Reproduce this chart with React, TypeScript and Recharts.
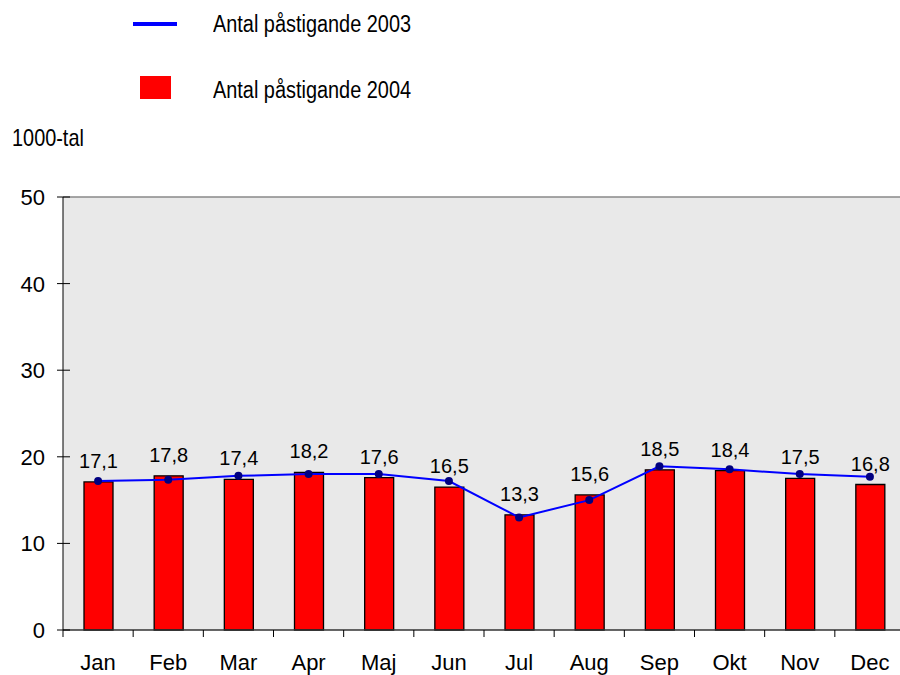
import React from 'react';
import { ComposedChart, Bar, Line, XAxis, YAxis, CartesianGrid, LabelList, ReferenceLine, Label } from 'recharts';

const months = ['Jan', 'Feb', 'Mar', 'Apr', 'Maj', 'Jun', 'Jul', 'Aug', 'Sep', 'Okt', 'Nov', 'Dec'];
const values2004 = [17.1, 17.8, 17.4, 18.2, 17.6, 16.5, 13.3, 15.6, 18.5, 18.4, 17.5, 16.8];
const values2003 = [17.2, 17.35, 17.8, 18.0, 18.0, 17.2, 13.0, 15.0, 18.9, 18.55, 18.0, 17.7];
const yTicks = [0, 10, 20, 30, 40, 50];
const seriesNames = ['Antal påstigande 2003', 'Antal påstigande 2004'];
const unitLabel = '1000-tal';

const data = months.map((m, i) => ({ month: m, y2003: values2003[i], y2004: values2004[i] }));

const CHART_W = 920;
const CHART_H = 675;
const M_RIGHT = 15;
const Y_W = 63;
const BAND = (CHART_W - M_RIGHT - Y_W) / months.length;
const FONT = 'Liberation Sans, Arial, sans-serif';
const NARROW_SCALE = 0.865;

const XTick = (props: any) => {
  const { x, y, payload } = props;
  return (
    <g>
      <line x1={x - BAND / 2} x2={x - BAND / 2} y1={y} y2={y + 7} stroke="#000" strokeWidth={1} />
      <text x={x} y={y + 40} textAnchor="middle" fontSize={22} fontFamily={FONT} fill="#000">
        {payload.value}
      </text>
    </g>
  );
};

const YTick = (props: any) => {
  const { x, y, payload } = props;
  return (
    <g>
      <line x1={x - 6} x2={x + 7} y1={y} y2={y} stroke="#000" strokeWidth={1} />
      <text x={x - 18} y={y + 8} textAnchor="end" fontSize={22} fontFamily={FONT} fill="#000">
        {payload.value}
      </text>
    </g>
  );
};

const legendText: React.CSSProperties = {
  position: 'absolute',
  left: 213,
  fontSize: 23,
  lineHeight: '28px',
  color: '#000',
  whiteSpace: 'nowrap',
  fontFamily: FONT,
  transform: `scaleX(${NARROW_SCALE})`,
  transformOrigin: 'left center',
};

const fmt = (v: any) => String(v).replace('.', ',');

export default function App() {
  return (
    <div style={{ position: 'absolute', left: 0, top: 0, width: 900, height: 675, overflow: 'hidden', background: '#fff' }}>
      <div style={{ position: 'absolute', left: 133, top: 22, width: 44, height: 4, background: '#0000ff' }} />
      <div style={{ ...legendText, top: 10 }}>{seriesNames[0]}</div>
      <div style={{ position: 'absolute', left: 140, top: 76, width: 31, height: 23, background: '#ff0000' }} />
      <div style={{ ...legendText, top: 76 }}>{seriesNames[1]}</div>
      <ComposedChart width={CHART_W} height={CHART_H} data={data} margin={{ top: 197, right: M_RIGHT, bottom: 0, left: 0 }}>
        <CartesianGrid horizontal={false} vertical={false} fill="#e9e9e9" />
        <XAxis
          dataKey="month"
          height={45}
          tickLine={false}
          tickSize={0}
          tickMargin={0}
          axisLine={{ stroke: '#333', strokeWidth: 1.5 }}
          tick={<XTick />}
          interval={0}
        />
        <YAxis
          width={Y_W}
          domain={[0, 50]}
          ticks={yTicks}
          tickLine={false}
          tickSize={0}
          tickMargin={0}
          axisLine={{ stroke: '#000', strokeWidth: 1 }}
          tick={<YTick />}
          interval={0}
        >
          <Label
            content={() => (
              <text x={12} y={146} fontSize={23} fontFamily={FONT} fill="#000" transform={`translate(12 0) scale(${NARROW_SCALE} 1) translate(-12 0)`}>
                {unitLabel}
              </text>
            )}
          />
        </YAxis>
        <ReferenceLine y={50} stroke="#888" strokeWidth={1.5} />
        <Bar dataKey="y2004" name={seriesNames[1]} fill="#ff0000" stroke="#000" strokeWidth={1.3} barSize={29} isAnimationActive={false}>
          <LabelList dataKey="y2004" position="top" offset={14} formatter={fmt} fontSize={20} fontFamily={FONT} fill="#000" />
        </Bar>
        <Line
          dataKey="y2003"
          name={seriesNames[0]}
          type="linear"
          stroke="#0000ff"
          strokeWidth={2}
          dot={{ r: 4, fill: '#000080', stroke: 'none' }}
          activeDot={false}
          isAnimationActive={false}
        />
      </ComposedChart>
    </div>
  );
}
